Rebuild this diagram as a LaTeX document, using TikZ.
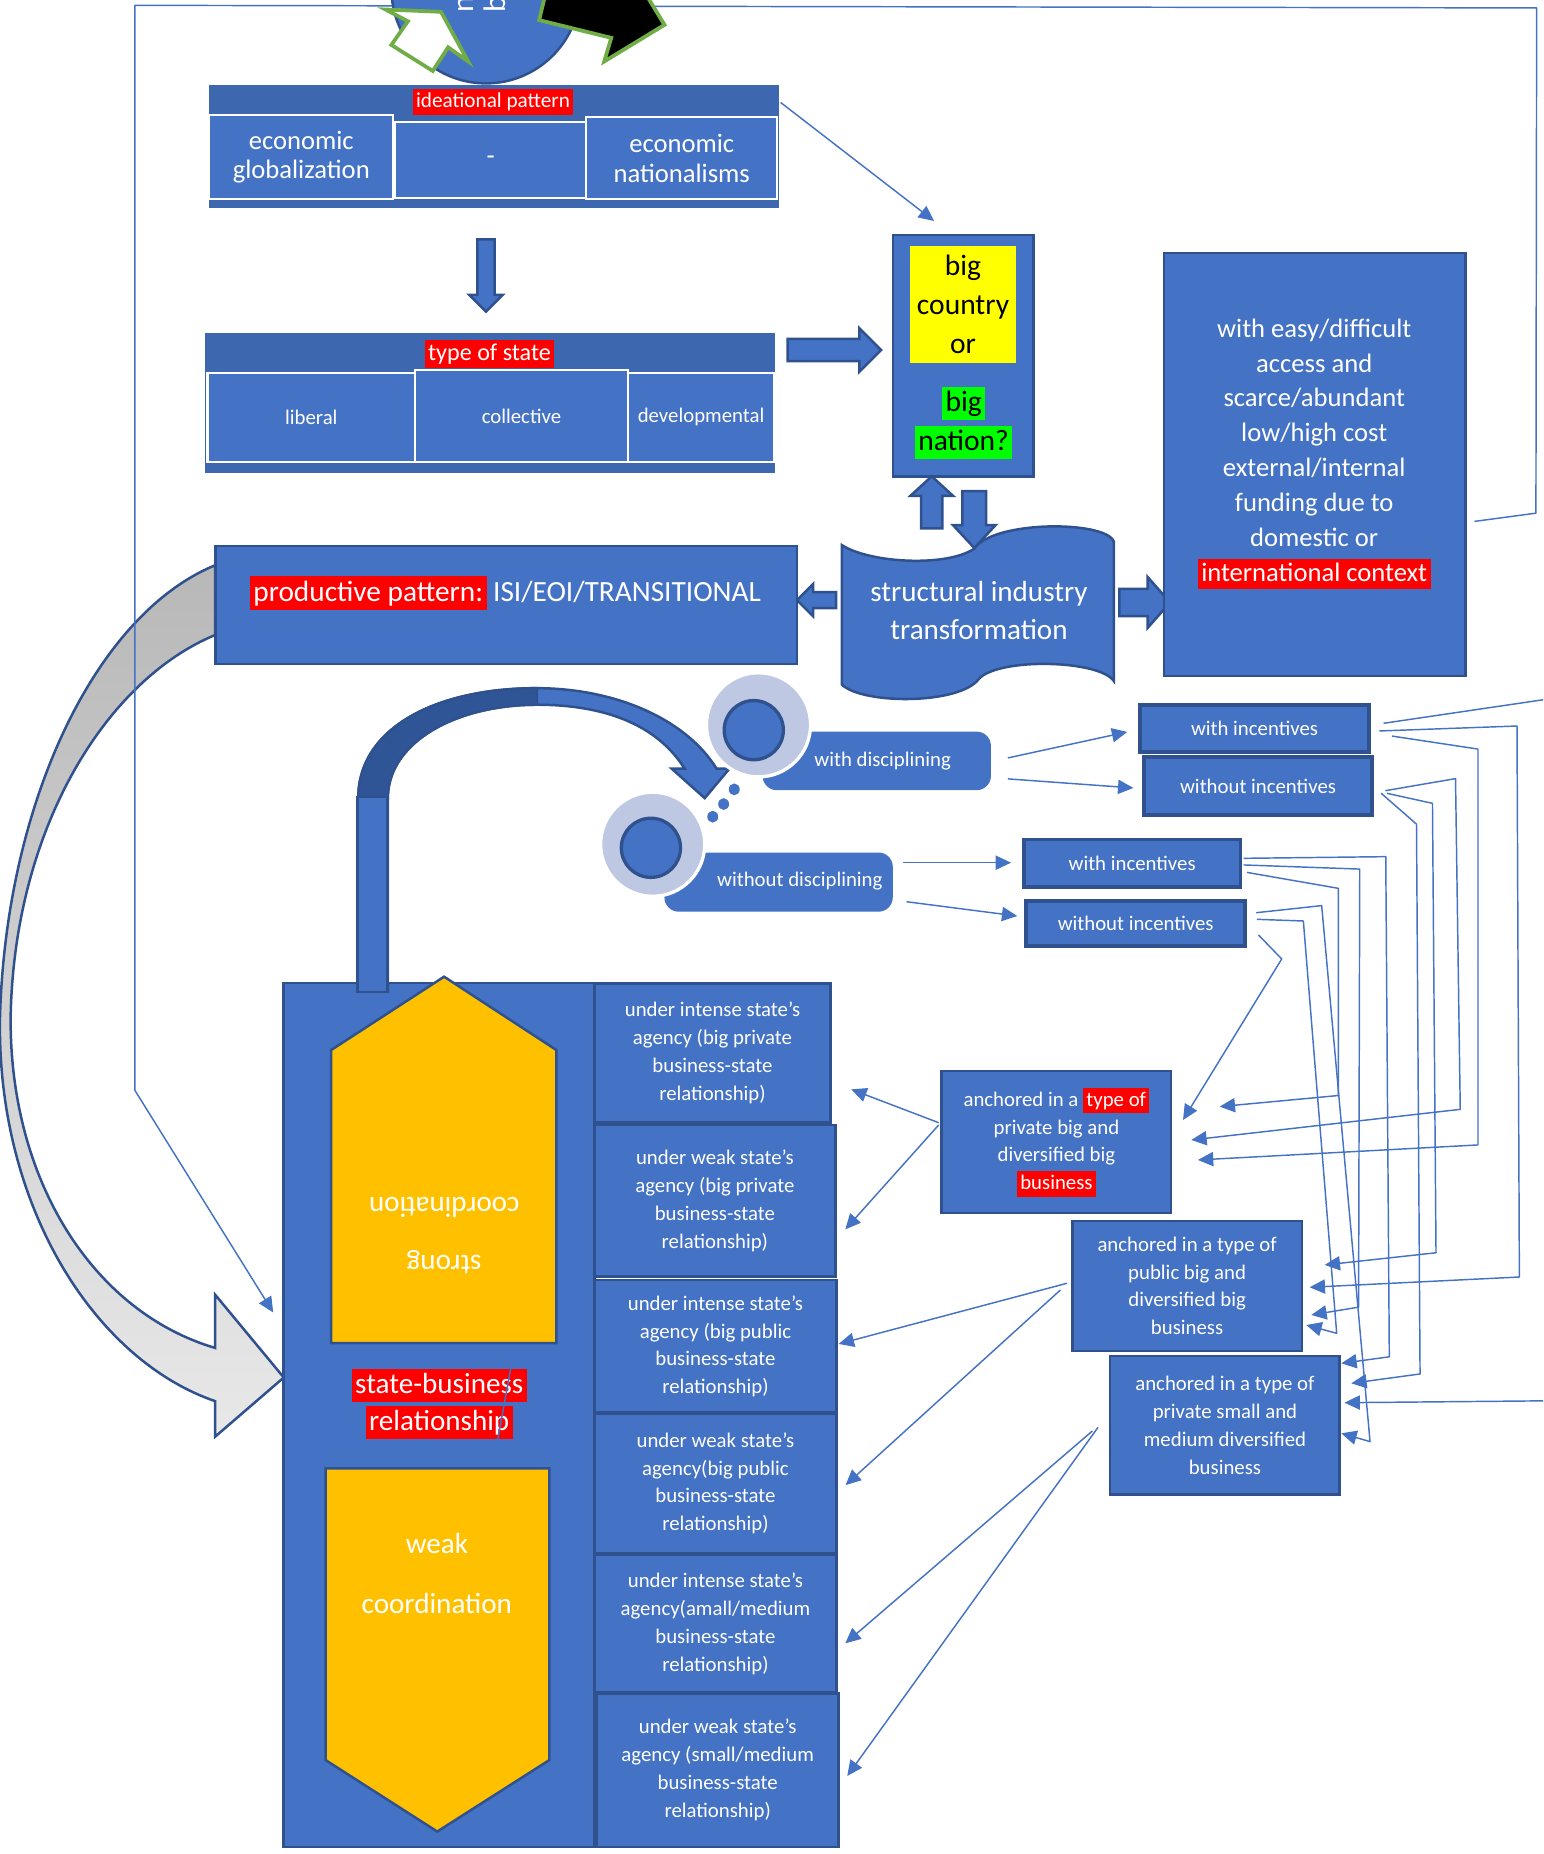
\documentclass[tikz,border=0pt]{standalone}
\usepackage{fontspec}
\setmainfont{Carlito}
\usepackage{tikz}
\usetikzlibrary{
    arrows.meta,
    positioning,
    calc,
    shapes.geometric,
    shapes.arrows
}
\definecolor{bblue}{HTML}{4472C4}
\definecolor{bdark}{HTML}{2F528F}
\definecolor{bhead}{HTML}{3D68B0}
\definecolor{arcdark}{HTML}{2F5597}
\definecolor{goldy}{HTML}{FFC000}
\definecolor{haloc}{HTML}{BFC8E3}
\definecolor{greytop}{HTML}{B8B8B8}
\definecolor{greybot}{HTML}{E8E8E8}
\definecolor{arrgreen}{HTML}{70AD47}
\definecolor{hlred}{HTML}{FF0000}
\definecolor{hlyel}{HTML}{FFFF00}
\definecolor{hlgreen}{HTML}{00FF00}
\newcommand{\fsz}[2]{\fontsize{#1}{#2}\selectfont}
\newcommand{\redhl}[1]{{\setlength{\fboxsep}{0.8pt}\colorbox{hlred}{\vphantom{Ag(}#1}}}
\newcommand{\greenhl}[1]{{\setlength{\fboxsep}{0.8pt}\colorbox{hlgreen}{\vphantom{Ag(}#1}}}
\tikzset{
  box/.style    = {draw=bdark, fill=bblue, line width=0.6pt, inner sep=0pt,
                   align=center, text=white},
  cell/.style   = {draw=white, fill=bblue, line width=0.5pt, inner sep=0pt,
                   align=center, text=white},
  hbar/.style   = {fill=bhead, inner sep=0pt},
  txt/.style    = {inner sep=0pt, align=center, text=white},
  bigarr/.style = {single arrow, draw=bdark, fill=bblue, line width=0.6pt,
                   inner sep=0pt, single arrow head indent=0pt},
  arr/.style    = {-{Triangle[length=1.3mm, width=1.2mm]}, bblue,
                   line width=0.35pt, line join=round},
  thinln/.style = {bblue, line width=0.35pt}
}

\begin{document}
\begin{tikzpicture}[x=0.01cm, y=-0.01cm,
  fa/.style={font=\fsz{5}{6.7}},
  fb/.style={font=\fsz{6.4}{8.4}},
  fc/.style={font=\fsz{7}{9.3}}]

  \useasboundingbox (0,0) rectangle (1305,1568);
  \clip (0,0) rectangle (1305,1568);

  % grey sweep from the productive pattern to the state-business box
  \shadedraw[top color=greytop, bottom color=greybot, draw=bdark, line width=0.6pt]
    (182,478) .. controls (80,520) and (5,680) .. (0,860)
    .. controls (-3,1020) and (80,1150) .. (182,1185)
    -- (182,1215) -- (240,1165) -- (182,1095) -- (182,1140)
    .. controls (80,1110) and (8,1000) .. (9,860)
    .. controls (12,700) and (90,575) .. (182,537) -- cycle;

  % ideational pattern
  \node[hbar, minimum width=48.14mm, minimum height=10.37mm] (ideabar) at (417.7,123.75) {};
  \node[cell, font=\fsz{6.4}{7.1}, minimum width=15.55mm, minimum height=7.1mm] (globz) at (254.8,132.8) {economic\\globalization};
  \node[cell, font=\fsz{6.4}{7.1}, minimum width=16.23mm, minimum height=6.43mm] (nopat) at (414.9,135.6) {-};
  \node[cell, font=\fsz{6.4}{7.1}, minimum width=16.12mm, minimum height=6.91mm] (natz) at (576.6,133.8) {economic\\nationalisms};
  \node[txt, font=\fsz{5.1}{6}] (idealbl) at (417,86) {\redhl{ideational pattern}};

  \node[bigarr, rotate=-90, minimum height=6.1mm, minimum width=2.6mm, inner ysep=0.62mm,
        single arrow head extend=0.69mm] (ideadown) at (411,229.4) {};

  % type of state
  \node[hbar, minimum width=48.15mm, minimum height=11.78mm] (statebar) at (414.35,340.8) {};
  \node[cell, fa, minimum width=17.55mm, minimum height=7.53mm] (liberal) at (263.3,352.9) {liberal};
  \node[cell, fa, minimum width=17.99mm, minimum height=7.76mm] (collective) at (441,351.7) {collective};
  \node[cell, fa, minimum width=12.39mm, minimum height=7.53mm] (devel) at (592.9,352.9) {developmental};
  \node[txt, font=\fsz{5.8}{6.6}] (statelbl) at (414,299.4) {\redhl{type of state}};

  \node[bigarr, minimum height=7.9mm, minimum width=3.45mm, inner ysep=0.83mm,
        single arrow head extend=0.9mm] (stateright) at (701,296) {};

  % big country or big nation
  \node[box, minimum width=11.9mm, minimum height=20.4mm] (bigc) at (814.7,300.9) {};
  \node[fill=hlyel, inner sep=0pt, align=center, font=\fsz{7.1}{9.4},
        minimum width=8.9mm, minimum height=9.9mm] (bigq) at (814.5,257.5) {big\\country\\or};
  \node[txt, text=black, font=\fsz{7.1}{9.4}] (nationq) at (815,357.5) {\greenhl{big}\\\greenhl{nation?}};

  \node[bigarr, rotate=90, minimum height=4.4mm, minimum width=3.4mm, inner ysep=0.8mm,
        single arrow head extend=0.9mm, single arrow tip angle=95] (sizeup) at (788,429) {};
  \node[bigarr, rotate=-90, minimum height=4.8mm, minimum width=3.4mm, inner ysep=0.9mm,
        single arrow head extend=0.8mm, single arrow tip angle=86] (sizedown) at (824,434) {};

  % structural industry transformation
  \filldraw[fill=bblue, draw=bdark, line width=0.6pt]
    (712,461) .. controls (735,476) and (800,480) .. (824,464)
    .. controls (840,440) and (935,440) .. (942,458) -- (942,576)
    .. controls (930,558) and (845,556) .. (828,574)
    .. controls (812,596) and (730,596) .. (712,579) -- cycle;
  \node[txt, font=\fsz{7}{9.2}] (sit) at (828,516.5) {structural industry\\transformation};

  \node[bigarr, rotate=180, minimum height=3.3mm, minimum width=2.5mm, inner ysep=0.57mm,
        single arrow head extend=0.69mm] (sitleft) at (694,507.5) {};
  \node[bigarr, minimum height=4.3mm, minimum width=4.1mm, inner ysep=1.05mm,
        single arrow head extend=1mm, single arrow tip angle=97] (sitright) at (963,509.5) {};

  % funding
  \node[box, minimum width=25.5mm, minimum height=35.75mm] (fund) at (1111.9,392.95) {};
  \node[txt, fb] (fundtxt) at (1111.5,384) {with easy/difficult\\access and\\scarce/abundant\\low/high cost\\external/internal\\funding due to\\domestic or\\\redhl{international context}};

  % productive pattern
  \node[box, minimum width=49.14mm, minimum height=9.98mm] (prod) at (428.1,511.7) {};
  \node[txt, font=\fsz{7.05}{8.4}] (prodtxt) at (427.5,501.5) {\redhl{productive pattern:} ISI/EOI/TRANSITIONAL};

  % state-business relationship
  \node[box, minimum width=26.31mm, minimum height=73.02mm] (sbr) at (371.25,1196.7) {};
  \filldraw[fill=goldy, draw=bdark, line width=0.6pt]
    (375.6,826) -- (470.5,888) -- (470.5,1136) -- (280.1,1136) -- (280.1,888) -- cycle;
  \filldraw[fill=goldy, draw=bdark, line width=0.6pt]
    (275.3,1241.8) -- (464.7,1241.8) -- (464.7,1488.5) -- (369.8,1549) -- (275.3,1488.5) -- cycle;
  \node[txt, font=\fsz{7}{14}, rotate=180] (strongc) at (375.6,1045.2) {strong\\coordination};
  \node[txt, font=\fsz{7}{14.4}] (weakc) at (369.5,1330.6) {weak\\coordination};
  \node[txt, font=\fsz{7}{9}] (sbrtxt) at (371.5,1187.4) {\redhl{state-business}\\\redhl{relationship}};
  \draw[thinln] (432.2,1155.9) -- (420.9,1217.9);

  \node[box, fa, minimum width=19.97mm, minimum height=11.76mm] (intpriv) at (602.6,890.4) {under intense state’s\\agency (big private\\business-state\\relationship)};
  \node[box, fa, minimum width=20.36mm, minimum height=12.83mm] (weakpriv) at (604.6,1015.5) {under weak state’s\\agency (big private\\business-state\\relationship)};
  \node[box, fa, minimum width=20.46mm, minimum height=11.23mm] (intpub) at (605.1,1138.6) {under intense state’s\\agency (big public\\business-state\\relationship)};
  \node[box, fa, minimum width=20.46mm, minimum height=11.84mm] (weakpub) at (605.1,1254.5) {under weak state’s\\agency(big public\\business-state\\relationship)};
  \node[box, fa, minimum width=20.46mm, minimum height=11.64mm] (intsme) at (605.1,1373.3) {under intense state’s\\agency(amall/medium\\business-state\\relationship)};
  \node[box, fa, minimum width=20.39mm, minimum height=12.97mm] (weaksme) at (607,1497) {under weak state’s\\agency (small/medium\\business-state\\relationship)};

  % curved arrow up to the disciplining options
  \filldraw[fill=bblue, draw=bdark, line width=0.6pt]
    (303,838) -- (303,675) .. controls (303,615) and (370,582) .. (454,582)
    .. controls (520,582) and (580,608) .. (606,650) -- (617,650) -- (596,675)
    -- (568,650) -- (579,650) .. controls (555,612) and (510,596) .. (454,596)
    .. controls (385,596) and (328,628) .. (328,675) -- (328,838) -- cycle;
  \filldraw[fill=arcdark, draw=bdark, line width=0.6pt]
    (303,675) .. controls (303,615) and (370,582) .. (454,582) -- (454,596)
    .. controls (385,596) and (328,628) .. (328,675) -- cycle;
  \node[box, minimum width=2.53mm, minimum height=16.5mm] (stem) at (315.2,756.5) {};

  % disciplining callouts
  \node[fill=bblue, rounded corners=1.2mm, minimum width=19.3mm, minimum height=4.95mm, inner sep=0pt] (disc) at (741.5,643.5) {};
  \node[circle, fill=haloc, draw=white, line width=0.8pt, minimum size=8.8mm, inner sep=0pt] (dischalo) at (641.5,613) {};
  \node[circle, fill=bblue, draw=bdark, line width=0.8pt, minimum size=5mm, inner sep=0pt] (disccore) at (637.5,617.5) {};
  \node[txt, fa] (disctxt) at (746.5,643.5) {with disciplining};

  \node[fill=bblue, rounded corners=1.2mm, minimum width=19.3mm, minimum height=5mm, inner sep=0pt] (nodisc) at (658.5,746) {};
  \node[circle, fill=haloc, draw=white, line width=0.8pt, minimum size=8.8mm, inner sep=0pt] (nodischalo) at (552,714) {};
  \node[circle, fill=bblue, draw=bdark, line width=0.8pt, minimum size=5mm, inner sep=0pt] (nodisccore) at (550.5,717) {};
  \node[txt, fa] (nodisctxt) at (676.5,745.5) {without disciplining};

  \fill[bblue] (621,667.6) ellipse (4.6 and 5);
  \fill[bblue] (612,680) ellipse (4.6 and 5);
  \fill[bblue] (602.8,690.7) ellipse (4.6 and 5);

  % incentives
  \node[box, fa, line width=0.9pt, minimum width=19.4mm, minimum height=4mm] (discinc) at (1061,616) {with incentives};
  \node[box, fa, line width=0.9pt, minimum width=19.3mm, minimum height=4.9mm] (discnoinc) at (1064,665) {without incentives};
  \node[box, fa, line width=0.9pt, minimum width=18.3mm, minimum height=4mm] (nodiscinc) at (957.5,730) {with incentives};
  \node[box, fa, line width=0.9pt, minimum width=18.5mm, minimum height=3.8mm] (nodiscnoinc) at (960.5,781) {without incentives};

  % anchoring business types
  \node[box, fa, minimum width=19.4mm, minimum height=12mm] (ancpriv) at (893.5,966) {anchored in a \redhl{type of}\\private big and\\diversified big\\\redhl{business}};
  \node[box, fa, minimum width=19.4mm, minimum height=11mm] (ancpub) at (1004,1087.5) {anchored in a type of\\public big and\\diversified big\\business};
  \node[box, fa, minimum width=19.4mm, minimum height=11.7mm] (ancsme) at (1036,1205.5) {anchored in a type of\\private small and\\medium diversified\\business};

  \draw[arr] ($(disc.east)+(13.6,-2.5)$) -- ($(discinc.west)+(-9,3)$);
  \draw[arr] ($(disc.east)+(13.6,15.2)$) -- ($(discnoinc.west)+(-7.3,1.4)$);
  \draw[arr] ($(nodisc.east)+(8.3,-16.4)$) -- ($(nodiscinc.west)+(-9.3,-0.4)$);
  \draw[arr] ($(nodisc.east)+(10.9,16.6)$) -- ($(nodiscnoinc.west)+(-6,-6.3)$);

  \draw[arr] ($(discinc.east)+(10.5,-4.3)$) -- (1320,589.6) -- (1320,1184.6) -- ($(ancsme.east)+(3,-19.2)$);
  \draw[arr] ($(discinc.east)+(6.9,2.2)$) -- (1283,614) -- (1285,1080) -- ($(ancpub.east)+(5.5,1.2)$);
  \draw[arr] ($(discinc.east)+(17.6,6.5)$) -- (1250,633.5) -- (1250,968.3) -- ($(ancpriv.east)+(21.5,15)$);
  \draw[arr] ($(discnoinc.east)+(9.5,3.7)$) -- (1231,658.5) -- (1235,938.2) -- ($(ancpriv.east)+(15.9,-1.9)$);
  \draw[arr] ($(discnoinc.east)+(10.8,5.9)$) -- (1211.5,679.4) -- (1214.5,1059.5) -- ($(ancpub.east)+(18.2,-17.7)$);
  \draw[arr] ($(discnoinc.east)+(6,5.9)$) -- (1198,697) -- (1201,1162) -- ($(ancsme.east)+(8.7,-35.6)$);
  \draw[arr] ($(nodiscinc.east)+(1.1,-4.1)$) -- (1172,724.5) -- (1175,1147.5) -- ($(ancsme.east)+(0.3,-52.5)$);
  \draw[arr] ($(nodiscinc.east)+(1.1,1.5)$) -- (1150,735) -- (1149,1105.5) -- ($(ancpub.east)+(6.9,24.6)$);
  \draw[arr] ($(nodiscinc.east)+(3.9,7.8)$) -- (1132,751.3) -- (1132,926.5) -- ($(ancpriv.east)+(39.9,-30.1)$);
  \draw[arr] ($(nodiscnoinc.east)+(7.8,-9.1)$) -- (1117.8,765.9) -- (1158.7,1219.2) -- ($(ancsme.east)+(0.3,6.7)$);
  \draw[arr] ($(nodiscnoinc.east)+(8.4,-3.5)$) -- (1102.3,778.9) -- (1130.5,1127.6) -- ($(ancpub.east)+(2.7,33.1)$);
  \draw[arr] ($(nodiscnoinc.east)+(9.8,9.8)$) -- (1084,811) -- ($(ancpriv.east)+(8.9,-18.8)$);

  \draw[arr] ($(ancpriv.west)+(-1.5,-16.5)$) -- ($(intpriv.east)+(16.4,30.9)$);
  \draw[arr] ($(ancpriv.west)+(-1.5,-14.6)$) -- ($(weakpriv.east)+(7.4,24.2)$);
  \draw[arr] ($(ancpub.west)+(-3.5,-2.2)$) -- ($(intpub.east)+(0.8,-2)$);
  \draw[arr] ($(ancpub.west)+(-9.1,3.5)$) -- ($(weakpub.east)+(6.6,1.5)$);
  \draw[arr] ($(ancsme.west)+(-14,4.7)$) -- ($(intsme.east)+(6.4,16.5)$);
  \draw[arr] ($(ancsme.west)+(-9.2,1.6)$) -- ($(weaksme.east)+(6.5,5)$);

  \draw[arr] ($(ideabar.north east)+(1,15.5)$) -- ($(bigc.north)+(-24.7,-10.9)$);

  % outer feedback frame
  \draw[arr] ($(fund.east)+(6.5,48)$) -- (1299,434) -- (1299.6,6.7) -- (114,4.5)
    -- (114,922) -- ($(sbr.west)+(-7.5,-86.7)$);

  % circle at the top with its two arrows
  \filldraw[fill=bblue, draw=bdark, line width=0.6pt] (411,-10) ellipse (80 and 80.5);
  \node[txt, rotate=90, anchor=north west, align=left, font=\fsz{7.5}{7.7}] (circtxt) at (387,11) {n\\bu};
  \filldraw[fill=white, draw=arrgreen, line width=0.9pt]
    (373,10) -- (396,52) -- (379,40) -- (366,60) -- (331,38) -- (345,18) -- (326,8) -- cycle;
  \filldraw[fill=black, draw=arrgreen, line width=0.9pt]
    (562,21) -- (511,52) -- (517,32) -- (456,17) -- (466,-25) -- (527,-10) -- (531,-30) -- cycle;
\end{tikzpicture}
\end{document}
